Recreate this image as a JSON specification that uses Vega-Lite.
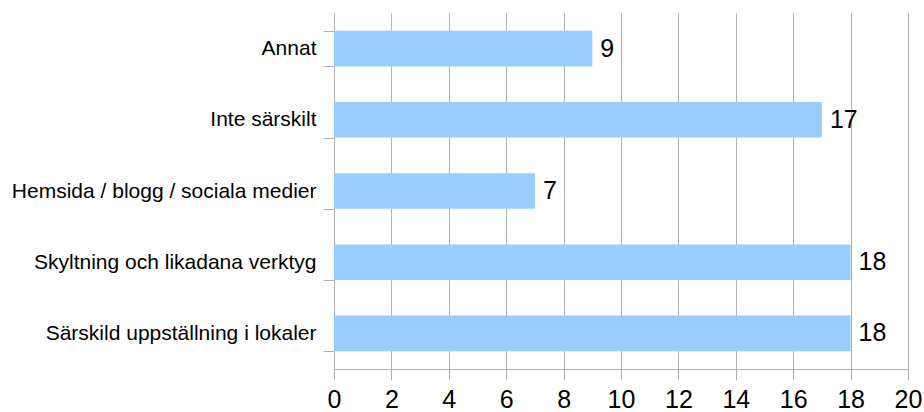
{
  "$schema": "https://vega.github.io/schema/vega-lite/v6.json",
  "width": 574,
  "height": 356,
  "autosize": {"type": "none"},
  "padding": {"left": 334, "top": 13, "right": 16, "bottom": 43},
  "background": "white",
  "config": {
    "view": {"stroke": null},
    "font": "Liberation Sans"
  },
  "data": {
    "values": [
      {"kategori": "Annat", "antal": 9},
      {"kategori": "Inte särskilt", "antal": 17},
      {"kategori": "Hemsida / blogg / sociala medier", "antal": 7},
      {"kategori": "Skyltning och likadana verktyg", "antal": 18},
      {"kategori": "Särskild uppställning i lokaler", "antal": 18}
    ]
  },
  "encoding": {
    "y": {
      "field": "kategori",
      "type": "nominal",
      "sort": null,
      "scale": {"paddingInner": 0.5, "paddingOuter": 0.25},
      "axis": {
        "title": null,
        "tickBand": "extent",
        "tickSize": 11,
        "tickColor": "#b3b3b3",
        "domainColor": "#b3b3b3",
        "grid": false,
        "labelFontSize": 21,
        "labelColor": "#000000",
        "labelPadding": 7,
        "labelLimit": 400
      }
    },
    "x": {
      "field": "antal",
      "type": "quantitative",
      "scale": {"domain": [0, 20], "nice": false},
      "axis": {
        "title": null,
        "values": [0, 2, 4, 6, 8, 10, 12, 14, 16, 18, 20],
        "tickSize": 11,
        "tickColor": "#b3b3b3",
        "domainColor": "#b3b3b3",
        "gridColor": "#b3b3b3",
        "gridOpacity": 1,
        "labelFontSize": 25,
        "labelColor": "#000000",
        "labelPadding": 7,
        "labelFlush": false
      }
    }
  },
  "layer": [
    {"mark": {"type": "bar", "color": "#99ccff"}},
    {
      "mark": {"type": "text", "align": "left", "dx": 8, "fontSize": 25, "color": "#000000"},
      "encoding": {"text": {"field": "antal", "type": "quantitative"}}
    }
  ]
}
